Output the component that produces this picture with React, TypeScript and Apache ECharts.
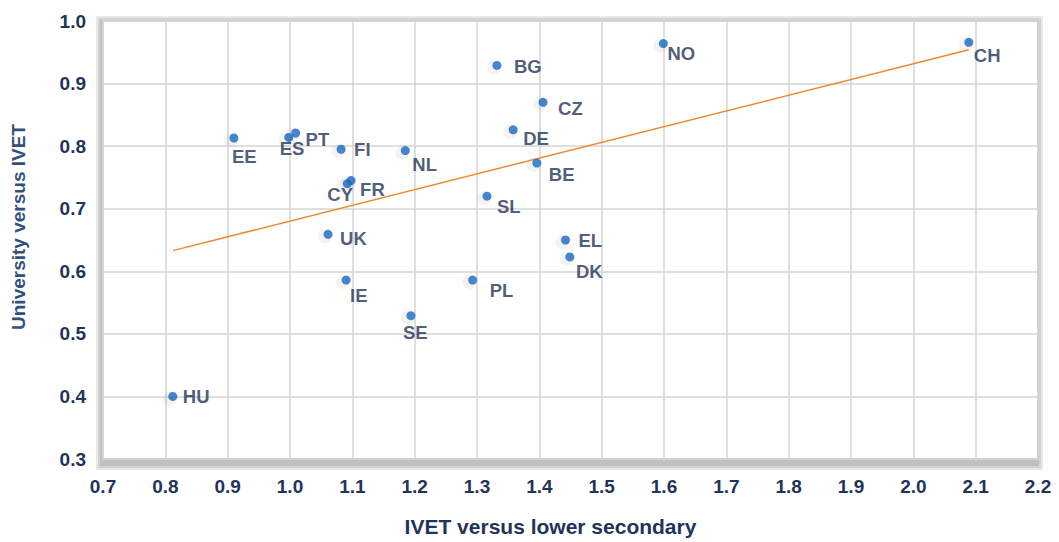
import React, { useEffect, useRef } from "react";
import * as echarts from "echarts";

const countries = ["HU", "EE", "ES", "PT", "FI", "CY", "FR", "UK", "IE", "NL", "BG", "CZ", "DE", "BE", "SL", "EL", "DK", "PL", "SE", "NO", "CH"];
const ivetVsLowerSecondary = [0.812, 0.910, 0.998, 1.009, 1.082, 1.092, 1.098, 1.061, 1.090, 1.185, 1.332, 1.406, 1.358, 1.396, 1.316, 1.442, 1.449, 1.293, 1.194, 1.599, 2.089];
const universityVsIvet = [0.400, 0.813, 0.814, 0.821, 0.795, 0.740, 0.745, 0.659, 0.586, 0.793, 0.929, 0.870, 0.826, 0.773, 0.720, 0.650, 0.623, 0.586, 0.529, 0.964, 0.966];
// label offsets (text left edge and text centre, relative to the dot centre)
const labelDx = [10, -2, -9, 10, 13, -20, 9, 12, 4, 7, 17, 15, 10, 12, 10, 13, 6, 17, -8, 4, 5];
const labelDy = [0, 18, 11, 6, 0, 11, 9, 4, 15, 14, 1, 6, 9, 11, 10, 0, 15, 10, 17, 10, 13];

const trendX = [0.812, 2.089];
const trendY = [0.633, 0.954];

const xTicks = { min: 0.7, max: 2.2, interval: 0.1 };
const yTicks = { min: 0.3, max: 1.0, interval: 0.1 };

const FONT = "'Liberation Sans', Arial, sans-serif";
const TEXT = "#1f3458";
const DOT = 9;

const W = 1059;
const H = 542;
const G = { left: 103, top: 21, right: 21, bottom: 79 };
const SHADOW_STEPS = [6, 4, 2];

export default function App() {
  const ref = useRef<HTMLDivElement>(null);
  useEffect(() => {
    if (!ref.current) return;
    const chart = echarts.init(ref.current, null, { renderer: "svg" });
    const points = countries.map((c, i) => ({
      name: c,
      value: [ivetVsLowerSecondary[i], universityVsIvet[i]],
      label: {
        show: true,
        formatter: c,
        position: [labelDx[i] + DOT / 2, labelDy[i] + DOT / 2],
        align: "left",
        verticalAlign: "middle",
        color: TEXT,
        fontFamily: FONT,
        fontWeight: "bold",
        fontSize: 18.5,
      },
    }));
    // soft "shadow" frame grids behind the plot area (indices 0..2), main grid last
    const shadowGrids = SHADOW_STEPS.map((d) => ({
      left: G.left - d - 1,
      top: G.top - d + 1,
      right: G.right - d + 1,
      bottom: G.bottom - d - 1,
      show: true,
      backgroundColor: "rgba(0,0,0,0.09)",
      borderWidth: 0,
    }));
    const mainGridIndex = shadowGrids.length;
    const hiddenX = SHADOW_STEPS.map((_, k) => ({ type: "value", gridIndex: k, show: false, min: 0, max: 1 }));
    const hiddenY = SHADOW_STEPS.map((_, k) => ({ type: "value", gridIndex: k, show: false, min: 0, max: 1 }));
    chart.setOption({
      animation: false,
      backgroundColor: "#ffffff",
      grid: [
        ...shadowGrids,
        {
          left: G.left,
          top: G.top,
          right: G.right,
          bottom: G.bottom,
          show: true,
          backgroundColor: "#ffffff",
          borderColor: "#c9c9c9",
          borderWidth: 1.5,
        },
      ],
      xAxis: [
        {
          type: "value",
          gridIndex: mainGridIndex,
          min: xTicks.min,
          max: xTicks.max,
          interval: xTicks.interval,
          name: "IVET versus lower secondary",
          nameLocation: "middle",
          nameGap: 57,
          nameTextStyle: {
            color: TEXT,
            fontFamily: FONT,
            fontWeight: "bold",
            fontSize: 21,
            padding: [0, 40, 0, 0],
          },
          axisLine: { show: false },
          axisTick: { show: false },
          axisLabel: {
            color: TEXT,
            fontFamily: FONT,
            fontWeight: "bold",
            fontSize: 19,
            margin: 18,
            formatter: (v: number) => v.toFixed(1),
          },
          splitLine: { show: true, lineStyle: { color: "#d4d4d4", width: 1.5 } },
        },
        ...hiddenX,
      ],
      yAxis: [
        {
          type: "value",
          gridIndex: mainGridIndex,
          min: yTicks.min,
          max: yTicks.max,
          interval: yTicks.interval,
          name: "University versus IVET",
          nameLocation: "middle",
          nameGap: 75,
          nameTextStyle: {
            color: "#33507a",
            fontFamily: FONT,
            fontWeight: "bold",
            fontSize: 19,
            padding: [0, 0, 0, 26],
          },
          axisLine: { show: false },
          axisTick: { show: false },
          axisLabel: {
            color: TEXT,
            fontFamily: FONT,
            fontWeight: "bold",
            fontSize: 19,
            margin: 17,
            formatter: (v: number) => v.toFixed(1),
          },
          splitLine: { show: true, lineStyle: { color: "#d4d4d4", width: 1.5 } },
        },
        ...hiddenY,
      ],
      series: [
        {
          type: "line",
          xAxisIndex: 0,
          yAxisIndex: 0,
          data: trendX.map((x, i) => [x, trendY[i]]),
          showSymbol: false,
          symbol: "none",
          lineStyle: { color: "#f0892e", width: 1.5 },
          z: 2,
          silent: true,
        },
        {
          type: "scatter",
          xAxisIndex: 0,
          yAxisIndex: 0,
          data: countries.map((c, i) => [ivetVsLowerSecondary[i], universityVsIvet[i]]),
          symbol: "circle",
          symbolSize: 14,
          symbolOffset: [-3, 2],
          itemStyle: { color: "rgba(0,0,0,0.06)" },
          z: 1,
          silent: true,
        },
        {
          type: "scatter",
          xAxisIndex: 0,
          yAxisIndex: 0,
          data: points,
          symbol: "circle",
          symbolSize: DOT,
          itemStyle: { color: "#1867c3" },
          z: 3,
        },
      ],
    });
    return () => chart.dispose();
  }, []);
  return (
    <div
      ref={ref}
      style={{ position: "fixed", left: 0, top: 0, width: W, height: H }}
    />
  );
}
